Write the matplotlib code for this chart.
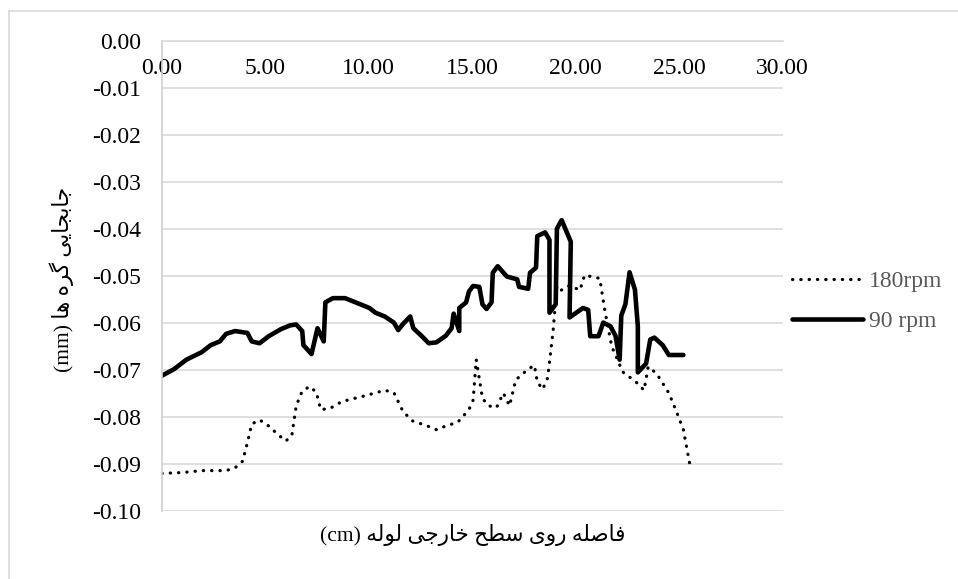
import matplotlib.pyplot as plt
from matplotlib.lines import Line2D

# 90 rpm curve (solid)
x_90 = [0.0, 0.59, 1.18, 1.92, 2.36, 2.8, 3.1, 3.54, 4.13, 4.34, 4.72, 5.16, 5.75, 6.19, 6.49,
        6.78, 6.84, 7.23, 7.52, 7.82, 7.9, 8.26, 8.85, 9.59, 10.03, 10.32, 10.77, 11.21, 11.42,
        11.65, 12.0, 12.15, 12.54, 12.9, 13.27, 13.72, 14.0, 14.1, 14.37, 14.37, 14.7, 14.84,
        15.04, 15.34, 15.49, 15.69, 15.93, 15.99, 16.23, 16.67, 17.17, 17.26, 17.7, 17.79, 18.08,
        18.14, 18.52, 18.73, 18.73, 19.03, 19.09, 19.32, 19.76, 19.7, 20.35, 20.6, 20.7, 21.1,
        21.33, 21.68, 21.92, 22.12, 22.2, 22.4, 22.6, 22.86, 23.0, 23.0, 23.4, 23.6, 23.8, 24.2,
        24.5, 25.2]
y_90 = [-0.0712, -0.0698, -0.0678, -0.0662, -0.0647, -0.0639, -0.0623, -0.0617, -0.0621, -0.0639,
        -0.0643, -0.0628, -0.0613, -0.0605, -0.0603, -0.0617, -0.0647, -0.0666, -0.0611, -0.0639,
        -0.0556, -0.0547, -0.0547, -0.056, -0.0568, -0.0578, -0.0586, -0.0599, -0.0615, -0.0602,
        -0.0586, -0.0611, -0.0627, -0.0643, -0.0641, -0.0627, -0.0611, -0.058, -0.0617, -0.0568,
        -0.0556, -0.0533, -0.0521, -0.0523, -0.056, -0.057, -0.0556, -0.0493, -0.0479, -0.0501,
        -0.0507, -0.0523, -0.0527, -0.0493, -0.0482, -0.0415, -0.0407, -0.0423, -0.0578, -0.056,
        -0.0399, -0.0381, -0.0427, -0.0588, -0.0568, -0.0572, -0.0628, -0.0628, -0.0599, -0.0607,
        -0.0627, -0.0678, -0.0584, -0.056, -0.0492, -0.0529, -0.0607, -0.0705, -0.0686, -0.0635,
        -0.0631, -0.0647, -0.0668, -0.0668]

# 180 rpm curve (dotted)
x_180 = [0.0, 1.03, 1.92, 3.1, 3.54, 3.9, 4.13, 4.34, 4.72, 5.16, 5.6, 5.99, 6.28, 6.49, 6.78,
         7.14, 7.46, 7.67, 8.11, 8.7, 9.88, 10.77, 11.21, 11.65, 12.1, 12.83, 13.27, 13.72, 14.3,
         14.84, 15.04, 15.19, 15.49, 15.78, 16.17, 16.5, 16.8, 17.1, 17.7, 18.0, 18.14, 18.4,
         18.64, 18.9, 19.09, 19.3, 19.7, 20.2, 20.43, 21.16, 21.4, 21.74, 22.27, 22.9, 23.3,
         23.5, 23.9, 24.5, 24.9, 25.2, 25.5]
y_180 = [-0.092, -0.0918, -0.0914, -0.0914, -0.0908, -0.0894, -0.0855, -0.0815, -0.0806, -0.0819,
         -0.0837, -0.0851, -0.0839, -0.0776, -0.0745, -0.0735, -0.0747, -0.0784, -0.0782, -0.0767,
         -0.0754, -0.0743, -0.0748, -0.0788, -0.0808, -0.0819, -0.0827, -0.0819, -0.0811, -0.0784,
         -0.0764, -0.0678, -0.076, -0.0776, -0.078, -0.0749, -0.0776, -0.0721, -0.0698, -0.069,
         -0.0725, -0.0741, -0.0717, -0.0619, -0.0521, -0.053, -0.052, -0.053, -0.0498, -0.0505,
         -0.0572, -0.065, -0.0704, -0.0725, -0.0743, -0.0693, -0.0707, -0.0749, -0.0792, -0.0827,
         -0.0898]

x_ticks = [0, 5, 10, 15, 20, 25, 30]
y_ticks = [0.0, -0.01, -0.02, -0.03, -0.04, -0.05, -0.06, -0.07, -0.08, -0.09, -0.10]

# simple Persian shaping (matplotlib has no bidi / joining support)
FORMS = {
    'ا': ('\uFE8D', '\uFE8E', None, None),
    'ب': ('\uFE8F', '\uFE90', '\uFE91', '\uFE92'),
    'ج': ('\uFE9D', '\uFE9E', '\uFE9F', '\uFEA0'),
    'ح': ('\uFEA1', '\uFEA2', '\uFEA3', '\uFEA4'),
    'خ': ('\uFEA5', '\uFEA6', '\uFEA7', '\uFEA8'),
    'ر': ('\uFEAD', '\uFEAE', None, None),
    'س': ('\uFEB1', '\uFEB2', '\uFEB3', '\uFEB4'),
    'ص': ('\uFEB9', '\uFEBA', '\uFEBB', '\uFEBC'),
    'ط': ('\uFEC1', '\uFEC2', '\uFEC3', '\uFEC4'),
    'ف': ('\uFED1', '\uFED2', '\uFED3', '\uFED4'),
    'ل': ('\uFEDD', '\uFEDE', '\uFEDF', '\uFEE0'),
    'ه': ('\uFEE9', '\uFEEA', '\uFEEB', '\uFEEC'),
    'و': ('\uFEED', '\uFEEE', None, None),
    'ی': ('\uFBFC', '\uFBFD', '\uFBFE', '\uFBFF'),
    'گ': ('\uFB92', '\uFB93', '\uFB94', '\uFB95'),
}


def shape(text):
    out = []
    for i, ch in enumerate(text):
        if ch not in FORMS:
            out.append(ch)
            continue
        prev = text[i - 1] if i > 0 else ''
        nxt = text[i + 1] if i + 1 < len(text) else ''
        jp = prev in FORMS and FORMS[prev][2] is not None
        jn = nxt in FORMS and FORMS[ch][2] is not None
        iso, fin, ini, med = FORMS[ch]
        if jp and jn:
            out.append(med)
        elif jp:
            out.append(fin)
        elif jn:
            out.append(ini)
        else:
            out.append(iso)
    return ''.join(reversed(out))


xlabel = '(cm) ' + shape('فاصله روی سطح خارجی لوله')
ylabel = '(mm) ' + shape('جابجایی گره ها')

plt.rcParams['font.family'] = ['Liberation Serif', 'DejaVu Sans']

fig = plt.figure(figsize=(9.58, 5.79), dpi=100)
ax = fig.add_axes([0.169, 0.1174, 0.648, 0.8116])

ax.plot(x_180, y_180, color='black', linewidth=2.3, linestyle=(0, (0.1, 2.5)),
        dash_capstyle='round', label='180rpm')
ax.plot(x_90, y_90, color='black', linewidth=3.3, solid_joinstyle='round',
        solid_capstyle='round', label='90 rpm')

ax.set_xlim(0, 30)
ax.set_ylim(-0.10, 0.0)
ax.set_xticks(x_ticks)
ax.set_xticklabels([f'{v:.2f}' for v in x_ticks])
ax.set_yticks(y_ticks)
ax.set_yticklabels([f'{v:.2f}' for v in y_ticks])

ax.grid(axis='y', color='#d9d9d9', linewidth=1.2)
ax.set_axisbelow(True)
ax.spines['bottom'].set_position(('data', 0))
ax.spines['bottom'].set_color('#d9d9d9')
ax.spines['bottom'].set_linewidth(1.2)
ax.spines['left'].set_color('#d0d0d0')
ax.spines['left'].set_linewidth(1.2)
ax.spines['top'].set_visible(False)
ax.spines['right'].set_visible(False)
ax.tick_params(axis='x', length=0, pad=12, labelsize=17)
ax.tick_params(axis='y', length=0, pad=15, labelsize=17)

fig.text(0.493, 0.076, xlabel, ha='center', va='center', fontsize=15.5)
fig.text(0.064, 0.518, ylabel, ha='center', va='center', rotation=90, fontsize=15.5)

handles = [Line2D([], [], color='black', linewidth=2.3, linestyle=(0, (0.1, 2.5)), dash_capstyle='round'),
           Line2D([], [], color='black', linewidth=3.3, solid_capstyle='round')]
leg = fig.legend(handles, ['180rpm', '90 rpm'], loc='center left',
                 bbox_to_anchor=(0.8267, 0.48), frameon=False, fontsize=17,
                 borderaxespad=0, borderpad=0,
                 handlelength=3.0, handletextpad=0.25, labelspacing=0.78, labelcolor='#595959')

# outer chart border (only left and top edges are in view)
fig.add_artist(Line2D([0.0094, 0.0094], [0.0, 0.981], color='#d9d9d9', linewidth=1.2))
fig.add_artist(Line2D([0.0094, 1.0], [0.981, 0.981], color='#d9d9d9', linewidth=1.2))

fig.savefig('out.png', dpi=100, facecolor='white')
